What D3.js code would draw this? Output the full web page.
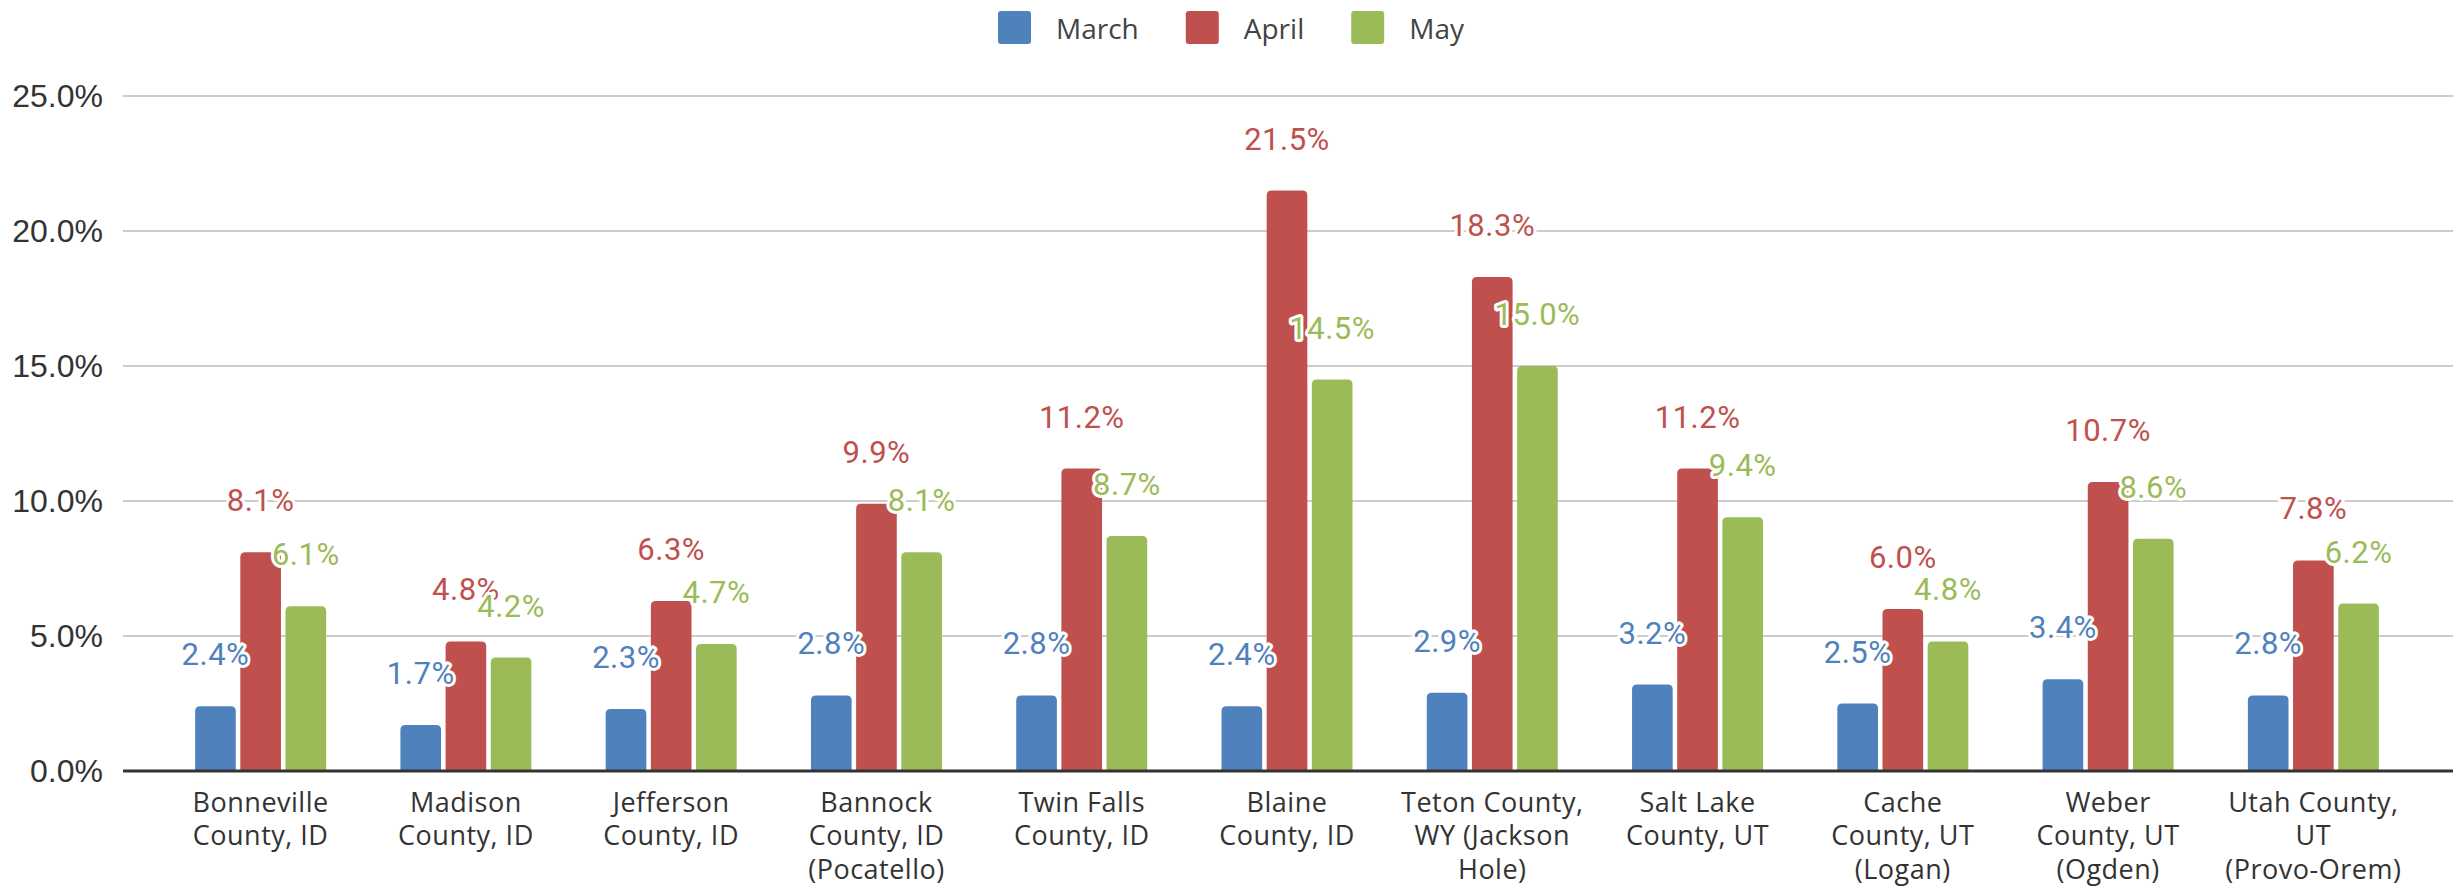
<!DOCTYPE html>
<html>
<head>
<meta charset="utf-8">
<style>
  body { margin: 0; background: #fff; }
  svg { display: block; }
</style>
</head>
<body>
<svg width="2460" height="887"></svg>

<script src="https://d3js.org/d3.v7.min.js"></script>

<script>

var categories = [
  "Bonneville\nCounty, ID",
  "Madison\nCounty, ID",
  "Jefferson\nCounty, ID",
  "Bannock\nCounty, ID\n(Pocatello)",
  "Twin Falls\nCounty, ID",
  "Blaine\nCounty, ID",
  "Teton County,\nWY (Jackson\nHole)",
  "Salt Lake\nCounty, UT",
  "Cache\nCounty, UT\n(Logan)",
  "Weber\nCounty, UT\n(Ogden)",
  "Utah County,\nUT\n(Provo-Orem)"
];

var seriesNames = ["March", "April", "May"];

var march = [2.4, 1.7, 2.3, 2.8, 2.8, 2.4, 2.9, 3.2, 2.5, 3.4, 2.8];
var april = [8.1, 4.8, 6.3, 9.9, 11.2, 21.5, 18.3, 11.2, 6.0, 10.7, 7.8];
var may   = [6.1, 4.2, 4.7, 8.1, 8.7, 14.5, 15.0, 9.4, 4.8, 8.6, 6.2];

var yTicks = [0, 5, 10, 15, 20, 25];

var barColors   = ["#4f81bd", "#c0504d", "#9bbb59"];
var labelColors = ["#4f81bd", "#c0504d", "#9bbb59"];

var svg = d3.select("svg"),
    width = +svg.attr("width"),
    height = +svg.attr("height");

var plotLeft = 123, plotRight = 2453;

var series = [march, april, may];

var y = d3.scaleLinear()
    .domain([0, 25])
    .range([771, 96]);

var x0 = d3.scaleBand()
    .domain(categories)
    .range([158, 2416])
    .padding(0);

var x1 = d3.scaleBand()
    .domain(seriesNames)
    .range([-65.5, 65.5])
    .paddingInner(0.1);

// gridlines
svg.append("g")
  .selectAll("line")
  .data(yTicks.filter(function(d) { return d > 0; }))
  .enter().append("line")
    .attr("x1", plotLeft)
    .attr("x2", plotRight)
    .attr("y1", function(d) { return y(d); })
    .attr("y2", function(d) { return y(d); })
    .attr("stroke", "#cccccc")
    .attr("stroke-width", 2);

// y axis labels
var yAxis = d3.axisLeft(y)
    .tickValues(yTicks)
    .tickSize(0)
    .tickPadding(0)
    .tickFormat(function(d) { return d.toFixed(1) + "%"; });

var yg = svg.append("g")
    .attr("transform", "translate(103,0)")
    .call(yAxis);
yg.select(".domain").remove();
yg.selectAll("text")
    .attr("font-family", "'Liberation Sans', Arial, sans-serif")
    .attr("font-size", 32)
    .attr("fill", "#333");

// bars with rounded tops
function topRounded(x, yTop, w, h, r) {
  r = Math.min(r, h, w / 2);
  return "M" + x + "," + (yTop + h) +
    "V" + (yTop + r) +
    "Q" + x + "," + yTop + " " + (x + r) + "," + yTop +
    "H" + (x + w - r) +
    "Q" + (x + w) + "," + yTop + " " + (x + w) + "," + (yTop + r) +
    "V" + (yTop + h) + "Z";
}

var barData = [];
series.forEach(function(vals, si) {
  vals.forEach(function(v, ci) {
    barData.push({ s: si, c: ci, value: v });
  });
});

function barX(d) {
  return x0(categories[d.c]) + x0.bandwidth() / 2 + x1(seriesNames[d.s]);
}

svg.append("g")
  .selectAll("path")
  .data(barData)
  .enter().append("path")
    .attr("d", function(d) {
      return topRounded(barX(d), y(d.value), x1.bandwidth(), y(0) - y(d.value), 5);
    })
    .attr("fill", function(d) { return barColors[d.s]; });

// baseline
svg.append("line")
    .attr("x1", plotLeft)
    .attr("x2", plotRight)
    .attr("y1", y(0))
    .attr("y2", y(0))
    .attr("stroke", "#333")
    .attr("stroke-width", 3);

// data labels
svg.append("g")
  .selectAll("text")
  .data(barData)
  .enter().append("text")
    .attr("x", function(d) { return barX(d) + x1.bandwidth() / 2; })
    .attr("y", function(d) { return y(d.value) - 41; })
    .attr("text-anchor", "middle")
    .attr("font-family", "Roboto, sans-serif")
    .attr("font-size", 31)
    .attr("letter-spacing", 0.5)
    .attr("fill", function(d) { return labelColors[d.s]; })
    .attr("stroke", "#fff")
    .attr("stroke-width", 6)
    .attr("stroke-linejoin", "round")
    .attr("paint-order", "stroke")
    .text(function(d) { return d.value.toFixed(1) + "%"; });

// category labels
var cat = svg.append("g")
  .selectAll("text")
  .data(categories)
  .enter().append("text")
    .attr("text-anchor", "middle")
    .attr("font-family", "'Open Sans', sans-serif")
    .attr("font-size", 27)
    .attr("letter-spacing", 0.5)
    .attr("fill", "#333");

cat.selectAll("tspan")
  .data(function(d) { return d.split("\n").map(function(t) { return { t: t, c: d }; }); })
  .enter().append("tspan")
    .attr("x", function(d) { return x0(d.c) + x0.bandwidth() / 2; })
    .attr("y", function(d, i) { return 812 + i * 33.3; })
    .text(function(d) { return d.t; });

// legend
var legend = svg.append("g");
var lx = 998;
seriesNames.forEach(function(name, i) {
  legend.append("rect")
      .attr("x", lx)
      .attr("y", 11)
      .attr("width", 33)
      .attr("height", 33)
      .attr("rx", 3)
      .attr("fill", barColors[i]);
  var t = legend.append("text")
      .attr("x", lx + 33 + 25)
      .attr("y", 39)
      .attr("font-family", "'Open Sans', sans-serif")
      .attr("font-size", 28)
      .attr("fill", "#444")
      .text(name);
  lx += 33 + 25 + t.node().getComputedTextLength() + 47;
});

</script>
</body>
</html>
